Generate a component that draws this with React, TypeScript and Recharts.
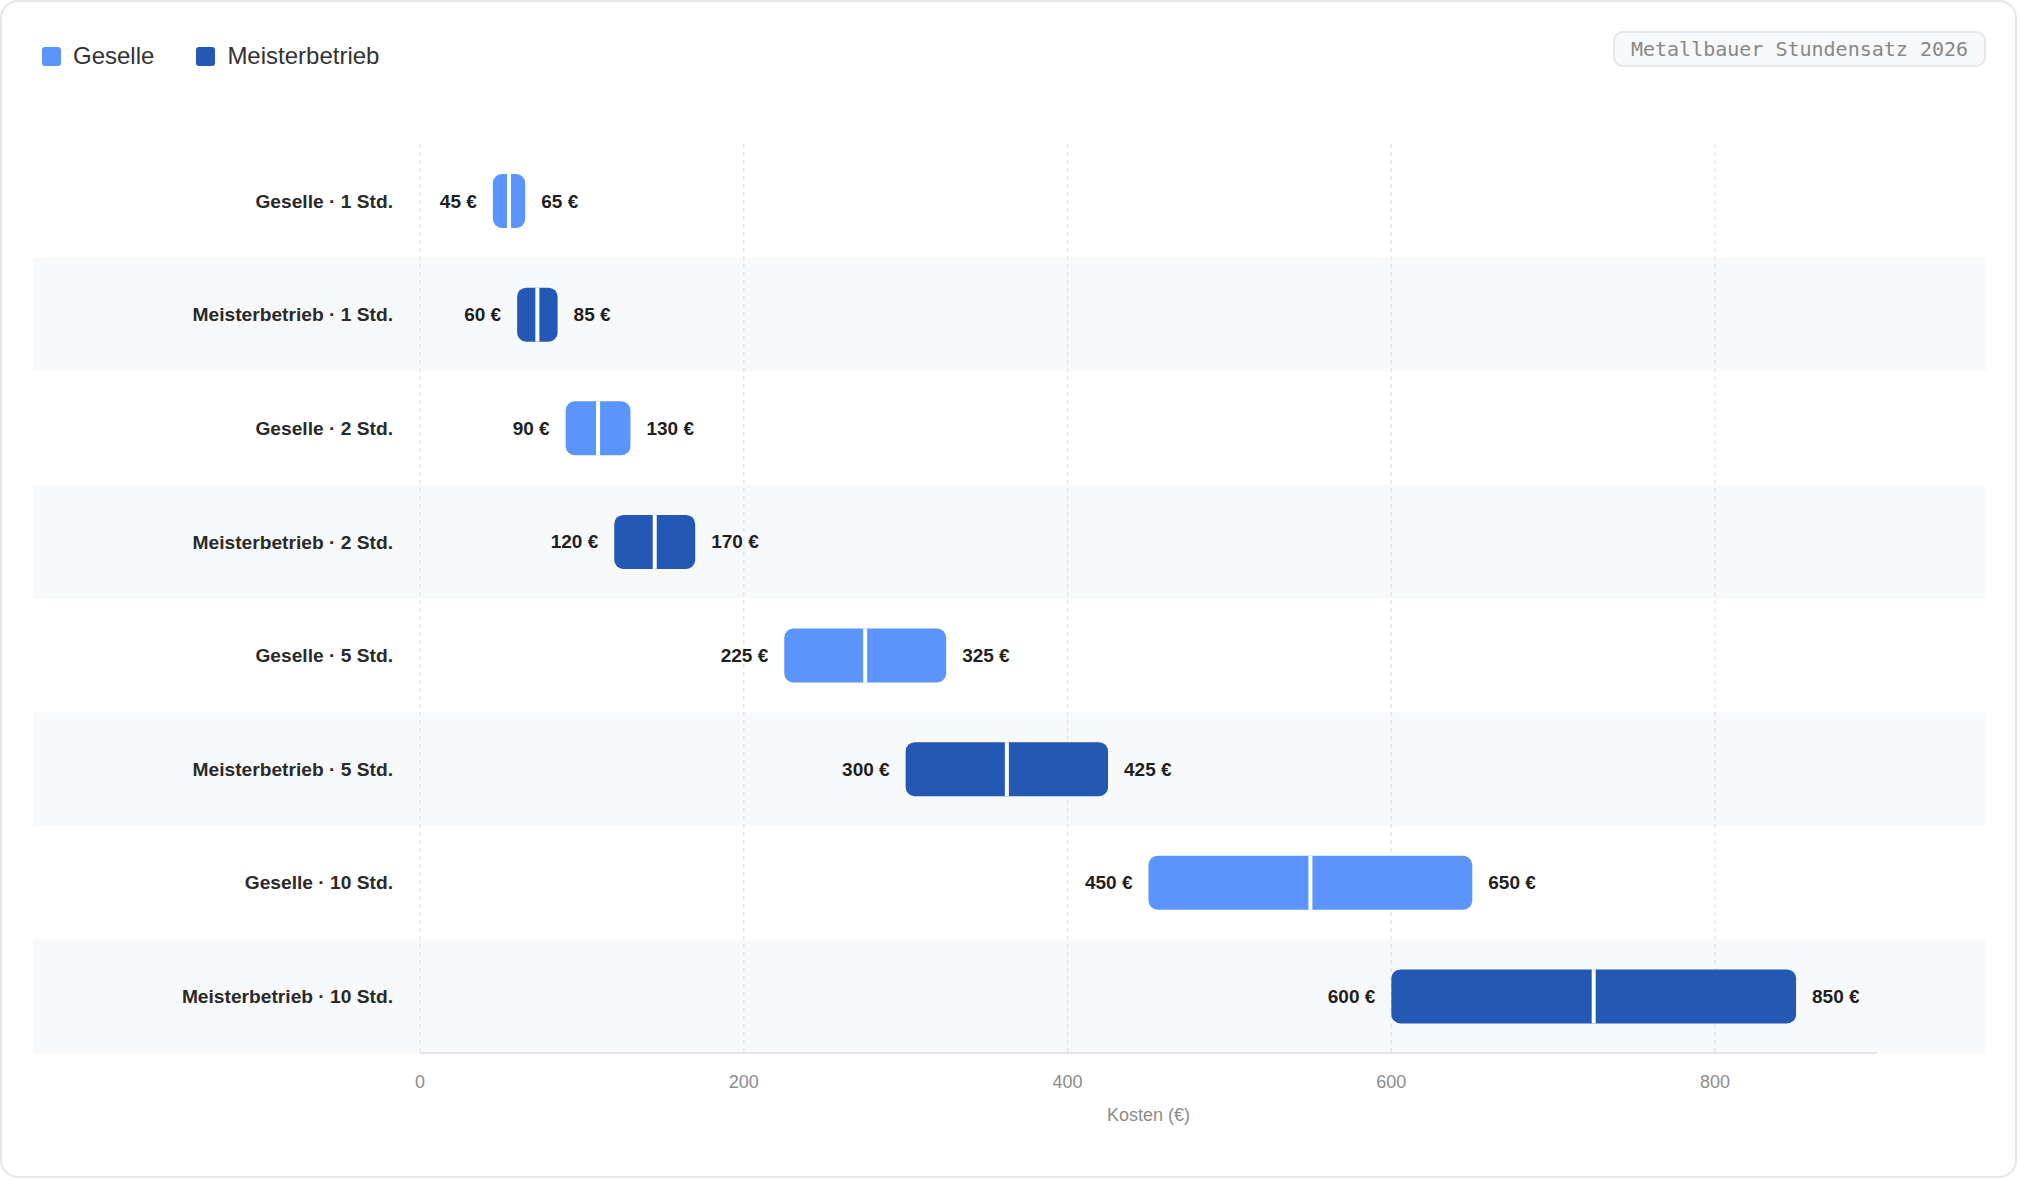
import React from 'react';
import {
  BarChart,
  Bar,
  XAxis,
  YAxis,
  CartesianGrid,
  ReferenceArea,
  Cell,
} from 'recharts';

// ---- data ----
const categories = [
  'Geselle · 1 Std.',
  'Meisterbetrieb · 1 Std.',
  'Geselle · 2 Std.',
  'Meisterbetrieb · 2 Std.',
  'Geselle · 5 Std.',
  'Meisterbetrieb · 5 Std.',
  'Geselle · 10 Std.',
  'Meisterbetrieb · 10 Std.',
];
const groups = [
  'Geselle',
  'Meisterbetrieb',
  'Geselle',
  'Meisterbetrieb',
  'Geselle',
  'Meisterbetrieb',
  'Geselle',
  'Meisterbetrieb',
];
const lowValues = [45, 60, 90, 120, 225, 300, 450, 600];
const highValues = [65, 85, 130, 170, 325, 425, 650, 850];
const seriesNames = ['Geselle', 'Meisterbetrieb'];
const xTicks = [0, 200, 400, 600, 800];
const xDomainMax = 900;
const xAxisLabel = 'Kosten (€)';
const chartTitle = 'Metallbauer Stundensatz 2026';

// ---- styles ----
const COLORS: Record<string, string> = {
  Geselle: '#5B94FD',
  Meisterbetrieb: '#2358B4',
};
const FONT = '"Liberation Sans", Arial, Helvetica, sans-serif';

const data = categories.map((name, i) => ({
  name,
  group: groups[i],
  low: lowValues[i],
  high: highValues[i],
  range: [lowValues[i], highValues[i]],
}));

const RangeShape = (props: any) => {
  const { x, y, width, height, payload } = props;
  if (width == null || height == null) return null;
  const fill = COLORS[payload.group];
  const r = Math.min(9, width / 2, height / 2);
  const mid = x + width / 2;
  const cy = y + height / 2;
  return (
    <g>
      <rect x={x} y={y} width={width} height={height} rx={r} ry={r} fill={fill} />
      <rect x={mid - 2} y={y} width={4} height={height} fill="#ffffff" />
      <text
        x={x - 16}
        y={cy}
        textAnchor="end"
        dominantBaseline="central"
        fontSize={19}
        fontWeight={700}
        fill="#1f1f1f"
        fontFamily={FONT}
      >
        {`${payload.low} €`}
      </text>
      <text
        x={x + width + 16}
        y={cy}
        textAnchor="start"
        dominantBaseline="central"
        fontSize={19}
        fontWeight={700}
        fill="#1f1f1f"
        fontFamily={FONT}
      >
        {`${payload.high} €`}
      </text>
    </g>
  );
};

const gridX = (args: any) => {
  const axis = args && args.xAxis;
  const scale = axis && axis.scale;
  if (typeof scale === 'function') {
    return xTicks.map((t) => scale(t));
  }
  const off = args && args.offset;
  const left = off ? off.left : 420;
  const w = off ? off.width : 1457;
  return xTicks.map((t) => left + (t / xDomainMax) * w);
};

export default function App() {
  return (
    <div
      style={{
        position: 'absolute',
        left: 0,
        top: 0,
        width: 2020,
        height: 1180,
        fontFamily: FONT,
      }}
    >
      <div
        style={{
          position: 'absolute',
          left: 0,
          top: 0,
          width: 2017,
          height: 1178,
          boxSizing: 'border-box',
          border: '2px solid #e6e7eb',
          borderRadius: 18,
          background: '#ffffff',
        }}
      />
      <div style={{ position: 'absolute', left: 0, top: 0 }}>
        <BarChart
          width={2020}
          height={1180}
          data={data}
          layout="vertical"
          margin={{ top: 144, right: 143, bottom: 47, left: 33 }}
          barSize={54}
        >
          {categories
            .filter((_, i) => i % 2 === 1)
            .map((c) => (
              <ReferenceArea
                key={c}
                y1={c}
                y2={c}
                x1={-239}
                x2={967}
                ifOverflow="visible"
                fill="#f8f9fa"
                fillOpacity={1}
                stroke="none"
                zIndex={-200}
              />
            ))}
          <CartesianGrid
            horizontal={false}
            vertical={true}
            verticalCoordinatesGenerator={gridX}
            stroke="#e6e7eb"
            strokeWidth={1.5}
            strokeDasharray="4 4"
          />
          <XAxis
            type="number"
            domain={[0, xDomainMax]}
            ticks={xTicks}
            tickLine={false}
            tickSize={0}
            tickMargin={22}
            axisLine={{ stroke: '#e4e5e9', strokeWidth: 2 }}
            tick={{ fontSize: 18, fill: '#8c8c8c', fontFamily: FONT }}
            height={80}
            label={{
              value: xAxisLabel,
              position: 'insideBottom',
              offset: 12,
              fontSize: 18,
              fill: '#8c8c8c',
              fontFamily: FONT,
            }}
          />
          <YAxis
            type="category"
            dataKey="name"
            width={387}
            axisLine={false}
            tickLine={false}
            tickSize={0}
            tickMargin={27}
            tick={{ fontSize: 19.2, fontWeight: 700, fill: '#2a2a2a', fontFamily: FONT }}
            interval={0}
          />
          <Bar dataKey="range" shape={RangeShape} isAnimationActive={false}>
            {data.map((d) => (
              <Cell key={d.name} fill={COLORS[d.group]} />
            ))}
          </Bar>
        </BarChart>
      </div>
      {/* legend */}
      <div
        style={{
          position: 'absolute',
          left: 42,
          top: 44,
          display: 'flex',
          alignItems: 'center',
          fontSize: 24,
          color: '#333333',
          lineHeight: '24px',
        }}
      >
        {seriesNames.map((s, i) => (
          <div
            key={s}
            style={{ display: 'flex', alignItems: 'center', marginRight: i === 0 ? 42 : 0 }}
          >
            <span
              style={{
                display: 'inline-block',
                width: 19,
                height: 19,
                borderRadius: 3,
                background: COLORS[s],
                marginRight: 12,
              }}
            />
            <span>{s}</span>
          </div>
        ))}
      </div>
      {/* title badge */}
      <div
        style={{
          position: 'absolute',
          left: 1613,
          top: 31,
          width: 373,
          height: 36,
          boxSizing: 'border-box',
          border: '2px solid #e6e7eb',
          borderRadius: 10,
          background: '#f8f9fa',
          fontFamily: '"DejaVu Sans Mono", monospace',
          fontSize: 20,
          color: '#888888',
          display: 'flex',
          alignItems: 'center',
          justifyContent: 'center',
        }}
      >
        {chartTitle}
      </div>
    </div>
  );
}
